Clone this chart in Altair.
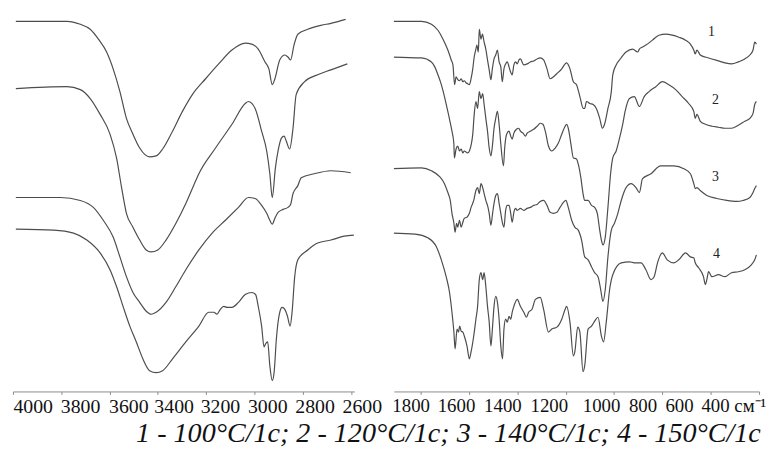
import altair as alt
import pandas as pd

# ---------------- data (wavenumber, cm-1 ; transmittance, arbitrary offset units) ----------------
L1_WN = [3988, 3776, 3721, 3680, 3646, 3612, 3585, 3557, 3530, 3503, 3475, 3434, 3407, 3380, 3339, 3298,
         3257, 3202, 3148, 3093, 3038, 3011, 2984, 2956, 2940, 2926, 2915, 2895, 2874, 2861, 2850, 2836,
         2820, 2779, 2724, 2683, 2622]
L1_T = [374, 374, 371, 366, 356, 343, 326, 303, 276, 260, 246, 237, 238, 245, 263, 283,
        300, 316, 331, 345, 352, 351, 346, 333, 326, 310, 316, 335, 340, 338, 335, 350,
        361, 366, 370, 372, 376]

L2_WN = [3988, 3776, 3721, 3680, 3639, 3598, 3571, 3550, 3530, 3503, 3475, 3448, 3428, 3400, 3366, 3325,
         3284, 3243, 3230, 3161, 3093, 3038, 3025, 2997, 2970, 2949, 2936, 2926, 2913, 2902, 2888, 2877,
         2868, 2854, 2840, 2827, 2792, 2738, 2683, 2615]
L2_T = [306, 308, 305, 296, 280, 260, 236, 206, 180, 166, 153, 143, 141, 143, 153, 170,
        190, 213, 220, 246, 270, 291, 293, 286, 263, 243, 220, 196, 226, 243, 256, 258,
        253, 245, 266, 300, 313, 320, 325, 331]

L3_WN = [3988, 3803, 3721, 3667, 3626, 3585, 3557, 3530, 3503, 3475, 3448, 3428, 3407, 3366, 3325, 3284,
         3230, 3175, 3120, 3066, 3025, 2997, 2970, 2949, 2936, 2926, 2915, 2902, 2881, 2861, 2850, 2840,
         2820, 2806, 2752, 2683, 2601]
L3_T = [196, 196, 193, 186, 173, 156, 136, 116, 100, 90, 81, 78, 80, 90, 106, 123,
        143, 160, 173, 186, 196, 195, 188, 180, 173, 169, 175, 181, 184, 186, 189, 200,
        208, 216, 220, 223, 221]

L4_WN = [3988, 3831, 3749, 3694, 3639, 3598, 3571, 3544, 3516, 3489, 3462, 3434, 3407, 3380, 3339, 3284,
         3230, 3189, 3168, 3155, 3141, 3127, 3113, 3093, 3066, 3038, 3011, 2995, 2984, 2970, 2960, 2954,
         2945, 2936, 2926, 2918, 2909, 2895, 2885, 2874, 2863, 2852, 2844, 2833, 2820, 2779, 2738, 2683,
         2628, 2588]
L4_T = [164, 163, 160, 153, 140, 123, 106, 86, 66, 50, 33, 21, 19, 21, 33, 50,
        66, 80, 80, 78, 83, 86, 85, 85, 90, 98, 100, 98, 86, 66, 45, 48,
        50, 26, 11, 20, 53, 80, 85, 83, 76, 66, 80, 116, 133, 143, 150, 153,
        157, 158]

R1_WN = [1935, 1796, 1755, 1728, 1707, 1687, 1673, 1666, 1659, 1653, 1646, 1639, 1632, 1625, 1619, 1612,
         1605, 1598, 1591, 1584, 1578, 1571, 1567, 1561, 1557, 1550, 1544, 1537, 1530, 1523, 1516, 1509,
         1503, 1496, 1489, 1482, 1475, 1468, 1462, 1455, 1448, 1441, 1434, 1428, 1421, 1414, 1407, 1400,
         1393, 1387, 1373, 1359, 1346, 1332, 1318, 1305, 1291, 1277, 1264, 1250, 1237, 1216, 1202, 1196,
         1182, 1168, 1155, 1141, 1127, 1121, 1114, 1100, 1086, 1073, 1059, 1048, 1039, 1025, 1011, 1005,
         991, 977, 950, 923, 902, 895, 882, 868, 841, 814, 786, 759, 732, 704, 684, 670,
         664, 657, 643, 623, 595, 568, 541, 513, 486, 459, 438, 425, 418, 411]
R1_T = [374, 374, 371, 365, 356, 345, 335, 330, 310, 318, 315, 314, 316, 313, 314, 312,
        311, 310, 316, 326, 338, 346, 350, 343, 366, 356, 361, 353, 346, 335, 325, 315,
        326, 336, 340, 345, 333, 328, 313, 326, 331, 333, 328, 323, 320, 330, 333, 331,
        335, 336, 330, 331, 333, 334, 336, 337, 335, 326, 316, 318, 321, 326, 331, 332,
        326, 313, 310, 298, 286, 286, 293, 291, 290, 286, 276, 266, 270, 286, 303, 320,
        330, 335, 343, 346, 343, 346, 348, 350, 355, 360, 361, 360, 358, 355, 351, 345,
        341, 345, 340, 338, 336, 334, 332, 331, 333, 336, 340, 345, 353, 351]

R2_WN = [1935, 1796, 1755, 1741, 1728, 1714, 1701, 1690, 1680, 1670, 1662, 1660, 1653, 1646, 1639, 1632,
         1625, 1619, 1605, 1598, 1584, 1578, 1571, 1564, 1557, 1550, 1543, 1537, 1530, 1523, 1516, 1509,
         1502, 1496, 1489, 1482, 1475, 1468, 1457, 1452, 1444, 1434, 1427, 1421, 1414, 1403, 1394, 1387,
         1376, 1366, 1359, 1346, 1332, 1318, 1305, 1294, 1284, 1271, 1257, 1243, 1230, 1216, 1202, 1196,
         1189, 1178, 1168, 1155, 1148, 1137, 1128, 1121, 1107, 1093, 1080, 1069, 1059, 1052, 1046, 1036,
         1025, 1014, 1005, 991, 977, 964, 954, 936, 916, 895, 875, 855, 827, 800, 773, 745,
         718, 691, 670, 664, 657, 643, 622, 595, 568, 541, 514, 486, 459, 438, 425, 418, 411]
R2_T = [338, 337, 333, 328, 320, 310, 298, 286, 275, 263, 250, 236, 245, 248, 243, 245,
        241, 243, 241, 243, 260, 280, 293, 286, 303, 296, 301, 290, 276, 263, 246, 238,
        250, 266, 276, 283, 270, 250, 228, 246, 260, 263, 258, 255, 261, 265, 266, 263,
        261, 258, 261, 263, 265, 268, 271, 270, 263, 248, 243, 246, 251, 260, 268, 270,
        266, 250, 236, 235, 230, 216, 200, 193, 193, 188, 186, 180, 163, 153, 148, 156,
        186, 220, 236, 243, 256, 270, 283, 296, 298, 288, 298, 303, 308, 313, 310, 305,
        298, 291, 283, 276, 280, 273, 270, 268, 267, 266, 266, 269, 273, 276, 281, 290, 293]

R3_WN = [1935, 1796, 1755, 1721, 1701, 1687, 1677, 1670, 1662, 1657, 1651, 1646, 1639, 1632, 1625, 1619,
         1608, 1598, 1591, 1580, 1571, 1564, 1557, 1550, 1543, 1537, 1530, 1523, 1516, 1509, 1502, 1496,
         1489, 1482, 1475, 1468, 1461, 1455, 1448, 1441, 1434, 1427, 1421, 1414, 1407, 1400, 1387, 1373,
         1359, 1346, 1332, 1318, 1305, 1291, 1277, 1264, 1250, 1236, 1223, 1209, 1199, 1189, 1175, 1162,
         1148, 1134, 1121, 1107, 1093, 1080, 1066, 1055, 1046, 1036, 1025, 1011, 998, 984, 970, 950,
         929, 909, 895, 882, 847, 807, 752, 711, 684, 670, 664, 657, 643, 616, 575, 534,
         493, 466, 438, 425, 418, 411]
R3_T = [225, 226, 223, 217, 210, 201, 193, 180, 170, 161, 170, 166, 173, 166, 171, 175,
        176, 180, 186, 193, 203, 206, 200, 210, 206, 200, 193, 188, 180, 168, 180, 190,
        198, 200, 190, 180, 170, 166, 183, 188, 188, 180, 171, 181, 185, 183, 185, 183,
        185, 186, 188, 189, 192, 193, 188, 181, 180, 181, 186, 191, 193, 186, 173, 166,
        163, 153, 136, 133, 126, 120, 116, 103, 91, 103, 136, 163, 170, 180, 193, 206,
        210, 206, 201, 215, 220, 228, 228, 225, 220, 210, 205, 206, 203, 198, 195, 193,
        192, 193, 196, 201, 205, 208]

R4_WN = [1932, 1823, 1768, 1734, 1714, 1694, 1680, 1670, 1662, 1657, 1649, 1643, 1638, 1632, 1625, 1619,
         1608, 1598, 1591, 1580, 1571, 1564, 1557, 1550, 1543, 1537, 1530, 1523, 1516, 1509, 1502, 1496,
         1489, 1482, 1475, 1468, 1461, 1455, 1448, 1441, 1434, 1427, 1421, 1414, 1400, 1387, 1373, 1362,
         1353, 1339, 1325, 1305, 1291, 1271, 1257, 1236, 1216, 1202, 1196, 1182, 1168, 1162, 1150, 1141,
         1128, 1121, 1107, 1093, 1080, 1066, 1052, 1043, 1032, 1018, 1005, 970, 936, 916, 888, 868,
         847, 834, 820, 800, 780, 752, 732, 704, 684, 670, 664, 650, 630, 622, 616, 609,
         595, 568, 541, 514, 486, 459, 432, 418, 411]
R4_T = [160, 159, 155, 146, 133, 116, 100, 80, 60, 43, 63, 60, 66, 61, 60, 56,
        46, 33, 40, 56, 73, 86, 113, 120, 113, 120, 106, 86, 70, 46, 66, 86,
        96, 90, 73, 46, 33, 63, 73, 70, 76, 73, 80, 86, 93, 86, 80, 75,
        80, 83, 93, 95, 83, 60, 63, 65, 73, 83, 86, 70, 36, 40, 65, 60,
        20, 26, 63, 66, 71, 75, 56, 50, 70, 103, 118, 130, 131, 130, 130, 123,
        113, 116, 130, 140, 133, 130, 133, 140, 136, 135, 130, 125, 116, 108, 113, 121,
        116, 118, 116, 120, 121, 123, 128, 133, 138]

CURVE_NAMES = ["1", "2", "3", "4"]
NUM_WN = [597, 580, 580, 576]
NUM_T = [363, 294, 217, 139]

LEFT_TICKS = [4000, 3800, 3600, 3400, 3200, 3000, 2800, 2600]
RIGHT_TICKS = [1800, 1600, 1400, 1200, 1000, 800, 600, 400]
LEFT_LABEL_SHIFT = [20, 19, 19, 16, 14, 13, 12, 11]
RIGHT_LABEL_SHIFT = [-10, -13, -15, -17, -13, -20, -32, -26]
UNIT = "см⁻¹"
CAPTION = "1 - 100°C/1c; 2 - 120°C/1c; 3 - 140°C/1c; 4 - 150°C/1c"

# ---------------- build tables ----------------
def frame(wn, t, name):
    return pd.DataFrame({"wn": wn, "T": t, "curve": name, "i": list(range(len(wn)))})

left_df = pd.concat([frame(w, t, n) for w, t, n in
                     zip([L1_WN, L2_WN, L3_WN, L4_WN], [L1_T, L2_T, L3_T, L4_T], CURVE_NAMES)])
right_df = pd.concat([frame(w, t, n) for w, t, n in
                      zip([R1_WN, R2_WN, R3_WN, R4_WN], [R1_T, R2_T, R3_T, R4_T], CURVE_NAMES)])
num_df = pd.DataFrame({"wn": NUM_WN, "T": NUM_T, "label": CURVE_NAMES})

FONT = "Liberation Serif"
LINE = "#4d4d4d"
AXIS_GREY = "#8c8c8c"


def offsets(ticks, shifts):
    return {"condition": [{"test": f"datum.value == {v}", "value": s} for v, s in zip(ticks, shifts)],
            "value": 0}


def axis(ticks, shifts, size, expr=None):
    kw = dict(values=ticks, format="d", title=None, grid=False, domainColor=AXIS_GREY,
              domainWidth=1, tickColor=AXIS_GREY, tickSize=3, labelFont=FONT, labelFontSize=size,
              labelColor="#111111", labelPadding=2, labelOffset=offsets(ticks, shifts),
              labelOverlap=False, labelFlush=False)
    if expr:
        kw["labelExpr"] = expr
    return alt.Axis(**kw)


yscale = alt.Scale(domain=[0, 380], nice=False, zero=False)

left = alt.Chart(left_df).mark_line(color=LINE, strokeWidth=1.2, clip=True,
                                    interpolate="monotone").encode(
    x=alt.X("wn:Q", scale=alt.Scale(domain=[4000, 2586], nice=False, zero=False),
            axis=axis(LEFT_TICKS, LEFT_LABEL_SHIFT, 20)),
    y=alt.Y("T:Q", scale=yscale, axis=None),
    detail="curve:N",
    order="i:Q",
).properties(width=345, height=380)

rx = alt.X("wn:Q", scale=alt.Scale(domain=[1910, 400], nice=False, zero=False),
           axis=axis(RIGHT_TICKS, RIGHT_LABEL_SHIFT, 19,
                     expr=f"datum.value == 400 ? '400 {UNIT}' : datum.label"))

right_lines = alt.Chart(right_df).mark_line(color=LINE, strokeWidth=1.2, clip=True,
                                            interpolate="monotone").encode(
    x=rx,
    y=alt.Y("T:Q", scale=yscale, axis=None),
    detail="curve:N",
    order="i:Q",
)
right_nums = alt.Chart(num_df).mark_text(font=FONT, fontSize=14, color="#222222", baseline="middle").encode(
    x="wn:Q", y="T:Q", text="label:N")
right = alt.layer(right_lines, right_nums).properties(width=369, height=380)

chart = alt.hconcat(left, right, spacing=40, bounds="flush").properties(
    title=alt.TitleParams(CAPTION, orient="bottom", anchor="middle", dx=60, offset=4,
                          font=FONT, fontSize=28.4, fontStyle="italic", fontWeight="normal",
                          color="#111111"),
    padding={"left": 4, "top": 5, "right": 0, "bottom": 30},
    background="white",
).configure(font=FONT).configure_axis(labelFont=FONT).configure_title(font=FONT).configure_view(stroke=None)

chart.save("out.html", embed_options={"renderer": "svg", "actions": False})
